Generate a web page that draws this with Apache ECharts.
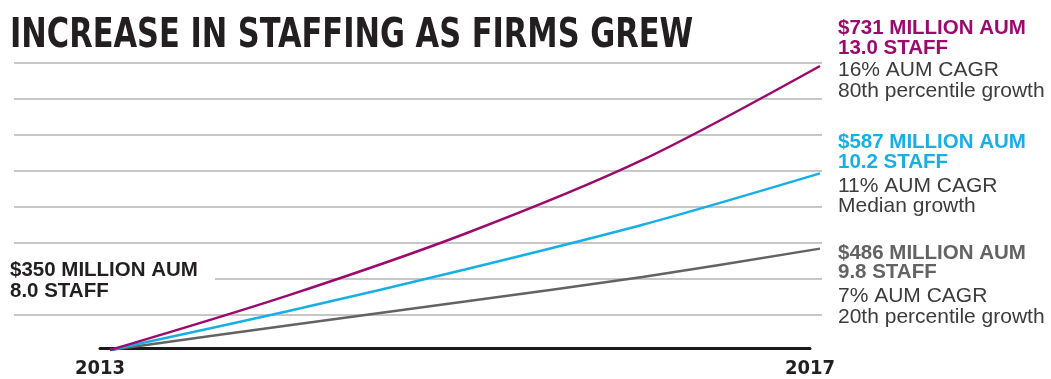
<!DOCTYPE html>
<html>
<head>
<meta charset="utf-8">
<title>Increase in staffing as firms grew</title>
<script src="https://cdn.jsdelivr.net/npm/echarts@6/dist/echarts.min.js"></script>
<style>
  html, body { margin: 0; padding: 0; background: #ffffff; }
  #chart { width: 1051px; height: 379px; }
</style>
</head>
<body>
<div id="chart"></div>
<script>
// Years along the x axis
const years = ['2013', '2014', '2015', '2016', '2017'];

// Assets under management ($ millions) for each growth path
const aum80th = [350, 423, 506, 605, 731];
const aumMedian = [350, 402, 458, 518, 587];
const aum20th = [350, 383, 415, 448, 486];

// Annotation texts
const titleText = 'INCREASE IN STAFFING AS FIRMS GREW';
const startLines = ['$350 MILLION AUM', '8.0 STAFF'];
const top80Lines = ['$731 MILLION AUM', '13.0 STAFF', '16% AUM CAGR', '80th percentile growth'];
const medianLines = ['$587 MILLION AUM', '10.2 STAFF', '11% AUM CAGR', 'Median growth'];
const low20Lines = ['$486 MILLION AUM', '9.8 STAFF', '7% AUM CAGR', '20th percentile growth'];

const PURPLE = '#9c0a6e';
const BLUE = '#17afe6';
const GREY = '#636363';
const INK = '#231f20';
const CONDENSED = '"Liberation Sans Narrow", "DejaVu Sans Condensed", sans-serif';
const BOLD = 'bold 20.5px "Liberation Sans", Arial, sans-serif';
const LIGHT = '21px "Liberation Sans", Arial, sans-serif';

function textBlock(lines, x, ys, color) {
  return lines.map(function (t, i) {
    return {
      type: 'text',
      x: x,
      y: ys[i],
      z: 10,
      style: {
        text: t,
        font: i < 2 ? BOLD : LIGHT,
        fill: i < 2 ? color : '#3c3c3c',
        textVerticalAlign: 'middle'
      }
    };
  });
}

const chart = echarts.init(document.getElementById('chart'), null, { renderer: 'canvas' });

chart.setOption({
  animation: false,
  backgroundColor: '#ffffff',
  grid: [
    // plot area for the growth lines
    { left: 110, right: 231, top: 63, bottom: 29 },
    // baseline with the year labels
    { left: 100, right: 241, top: 63, bottom: 29 },
    // horizontal rules behind everything
    { left: 14, right: 229, top: 63, bottom: 64 }
  ],
  xAxis: [
    { gridIndex: 0, type: 'category', data: years, boundaryGap: false, show: false },
    {
      gridIndex: 1, type: 'category', data: years, boundaryGap: false,
      axisLine: { show: true, lineStyle: { color: '#1a1a1a', width: 3 } },
      axisTick: { show: false },
      axisLabel: {
        interval: 3,
        margin: 11,
        color: INK,
        fontFamily: CONDENSED,
        fontWeight: 'bold',
        fontSize: 20
      },
      splitLine: { show: false }
    },
    { gridIndex: 2, type: 'value', show: false }
  ],
  yAxis: [
    { gridIndex: 0, type: 'value', min: 350, max: 735, show: false },
    { gridIndex: 1, type: 'value', show: false },
    {
      gridIndex: 2, type: 'value', min: 0, max: 7, interval: 1,
      axisLine: { show: false }, axisTick: { show: false }, axisLabel: { show: false },
      splitLine: { show: true, lineStyle: { color: '#b4b4b4', width: 1.5 } }
    }
  ],
  series: [
    {
      name: '20th percentile growth', type: 'line', xAxisIndex: 0, yAxisIndex: 0,
      data: aum20th, smooth: 0.3, symbol: 'none',
      lineStyle: { color: GREY, width: 2.5 }, z: 3
    },
    {
      name: 'Median growth', type: 'line', xAxisIndex: 0, yAxisIndex: 0,
      data: aumMedian, smooth: 0.3, symbol: 'none',
      lineStyle: { color: BLUE, width: 2.5 }, z: 4
    },
    {
      name: '80th percentile growth', type: 'line', xAxisIndex: 0, yAxisIndex: 0,
      data: aum80th, smooth: 0.3, symbol: 'none',
      lineStyle: { color: PURPLE, width: 2.5 }, z: 5
    }
  ],
  graphic: [
    {
      type: 'text', x: 10, y: 36, z: 10, scaleX: 0.826,
      style: {
        text: titleText,
        font: 'bold 41px ' + CONDENSED,
        fill: INK,
        textVerticalAlign: 'middle'
      }
    },
    // white patch behind the starting-point note
    { type: 'rect', z: 9, shape: { x: 0, y: 256, width: 215, height: 46 }, style: { fill: '#ffffff' } }
  ]
    .concat(textBlock(startLines, 10, [270, 291], INK))
    .concat(textBlock(top80Lines, 838, [28, 48, 70, 91], PURPLE))
    .concat(textBlock(medianLines, 838, [142, 162, 186, 206], BLUE))
    .concat(textBlock(low20Lines, 838, [253, 272, 296, 317], GREY))
});
</script>
</body>
</html>
